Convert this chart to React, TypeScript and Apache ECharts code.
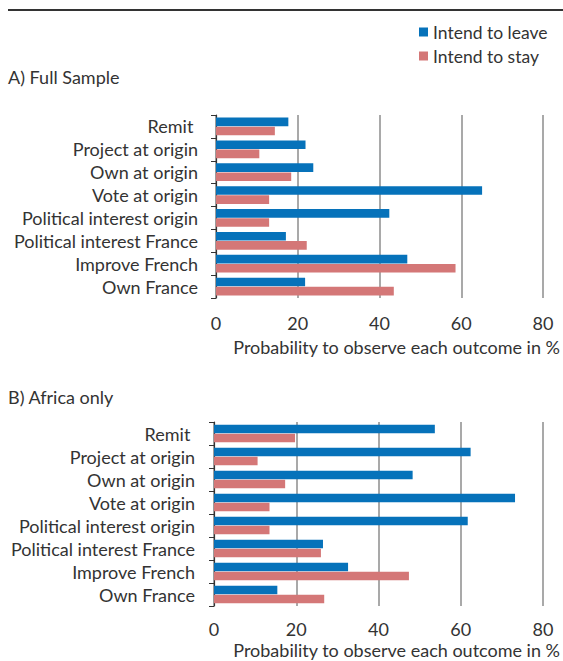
import React, { useEffect, useRef } from "react";
import * as echarts from "echarts";

const categories = [
  "Remit ",
  "Project at origin",
  "Own at origin",
  "Vote at origin",
  "Political interest origin",
  "Political interest France",
  "Improve French",
  "Own France",
];
const fullLeave = [17.7, 21.9, 23.8, 65.1, 42.4, 17.1, 46.8, 21.8];
const fullStay = [14.4, 10.6, 18.4, 13.0, 13.0, 22.2, 58.6, 43.5];
const africaLeave = [53.7, 62.4, 48.3, 73.2, 61.7, 26.5, 32.6, 15.4];
const africaStay = [19.7, 10.6, 17.3, 13.5, 13.5, 26.0, 47.4, 26.8];
const xTicks = { min: 0, max: 80, interval: 20 };
const seriesNames = ["Intend to leave", "Intend to stay"];
const panelTitles = ["A) Full Sample", "B) Africa only"];
const axisTitle = "Probability to observe each outcome in %";

const FONT = "Lato, 'Noto Sans', sans-serif";
const TEXT = "#333333";
const BLUE = "#0672ba";
const PINK = "#d47777";

export default function App() {
  const ref = useRef<HTMLDivElement>(null);
  useEffect(() => {
    if (!ref.current) return;
    const chart = echarts.init(ref.current, null, { renderer: "svg" });
    const xAxisBase = (gridIndex: number, margin: number) => ({
      type: "value",
      gridIndex,
      min: xTicks.min,
      max: xTicks.max,
      interval: xTicks.interval,
      axisLine: { show: false },
      axisTick: { show: false },
      splitLine: { show: true, lineStyle: { color: "#8c8c8c", width: 1.5 } },
      axisLabel: { fontSize: 18, lineHeight: 18, color: TEXT, margin, fontFamily: FONT },
    });
    const yAxisBase = (gridIndex: number, margin: number) => ({
      type: "category",
      gridIndex,
      inverse: true,
      data: categories,
      axisLine: { show: true, lineStyle: { color: TEXT, width: 1.2 } },
      axisTick: { show: true, length: 5, interval: 0, lineStyle: { color: TEXT, width: 1 } },
      axisLabel: { fontSize: 18, color: TEXT, margin, interval: 0, fontFamily: FONT },
    });
    const bar = (name: string, data: number[], idx: number, color: string) => ({
      type: "bar",
      name,
      data,
      xAxisIndex: idx,
      yAxisIndex: idx,
      barWidth: 8.6,
      barGap: "5%",
      itemStyle: { color },
    });
    chart.setOption({
      animation: false,
      textStyle: { fontFamily: FONT },
      legend: {
        data: seriesNames,
        orient: "vertical",
        left: 419,
        top: 23,
        itemWidth: 9,
        itemHeight: 9,
        itemGap: 6,
        padding: 0,
        icon: "rect",
        textStyle: { fontSize: 17.5, color: TEXT, fontFamily: FONT },
      },
      grid: [
        { left: 216, top: 115, width: 327, height: 183 },
        { left: 214, top: 422, width: 329, height: 184 },
      ],
      xAxis: [xAxisBase(0, 16), xAxisBase(1, 14)],
      yAxis: [yAxisBase(0, 18), yAxisBase(1, 19)],
      series: [
        bar(seriesNames[0], fullLeave, 0, BLUE),
        bar(seriesNames[1], fullStay, 0, PINK),
        bar(seriesNames[0], africaLeave, 1, BLUE),
        bar(seriesNames[1], africaStay, 1, PINK),
      ],
      graphic: [
        {
          type: "line",
          shape: { x1: 8, y1: 10, x2: 563, y2: 10 },
          style: { stroke: "#333", lineWidth: 2 },
        },
        {
          type: "text",
          x: 8,
          y: 77,
          style: { text: panelTitles[0], font: `18px ${FONT}`, fill: TEXT, verticalAlign: "middle" },
        },
        {
          type: "text",
          x: 8,
          y: 397,
          style: { text: panelTitles[1], font: `18px ${FONT}`, fill: TEXT, verticalAlign: "middle" },
        },
        {
          type: "text",
          x: 560,
          y: 347,
          style: {
            text: axisTitle,
            font: `18px ${FONT}`,
            fill: TEXT,
            align: "right",
            verticalAlign: "middle",
          },
        },
        {
          type: "text",
          x: 560,
          y: 650,
          style: {
            text: axisTitle,
            font: `18px ${FONT}`,
            fill: TEXT,
            align: "right",
            verticalAlign: "middle",
          },
        },
      ],
    });
    return () => chart.dispose();
  }, []);
  return (
    <div
      ref={ref}
      style={{ position: "absolute", left: 0, top: 0, width: 563, height: 661 }}
    />
  );
}
